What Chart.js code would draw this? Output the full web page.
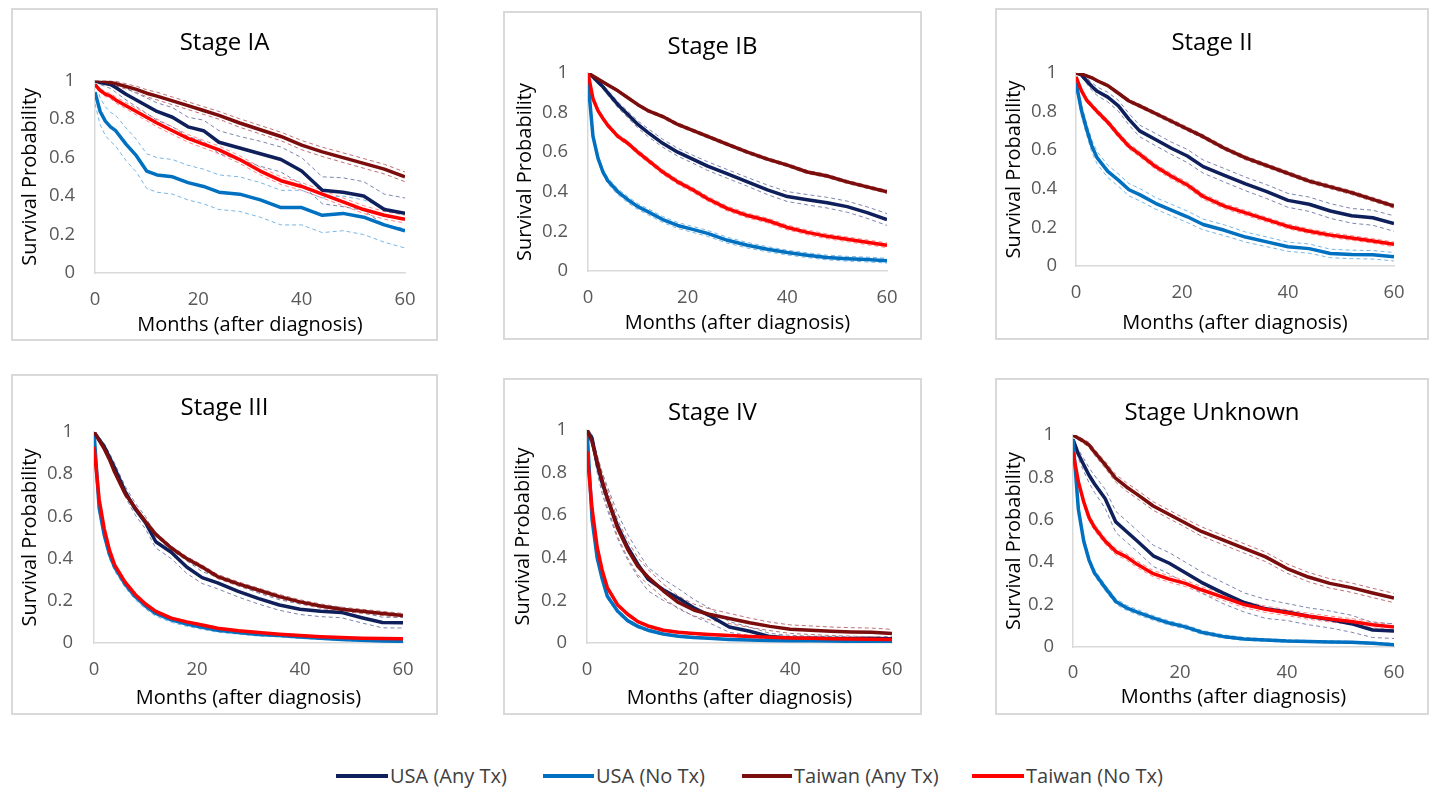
<!DOCTYPE html>
<html>
<head>
<meta charset="utf-8">
<script src="https://cdn.jsdelivr.net/npm/chart.js@4.4.0/dist/chart.umd.min.js"></script>
<style>
  html,body{margin:0;padding:0;background:#fff;}
  body{width:1432px;height:790px;overflow:hidden;position:relative;font-family:'Open Sans',sans-serif;}
  .panel{position:absolute;box-sizing:border-box;border:2px solid #d9d9d9;background:#fff;}
  .panel canvas{position:absolute;left:0;top:0;}
  .lg-line{position:absolute;height:4px;}
  .lg-text{position:absolute;font-size:20px;color:#404040;line-height:24px;white-space:nowrap;}
</style>
</head>
<body>
<script>
// ---------------- DATA ----------------
const months = [0,1,2,3,4,6,8,10,12,15,18,21,24,28,32,36,40,44,48,52,56,60];
const stageTitles = ['Stage IA','Stage IB','Stage II','Stage III','Stage IV','Stage Unknown'];
const seriesNames = ['USA (Any Tx)','USA (No Tx)','Taiwan (Any Tx)','Taiwan (No Tx)'];
const xTickLabels = ['0','20','40','60'];
const yTickLabels = ['0','0.2','0.4','0.6','0.8','1'];
const xAxisTitle = 'Months (after diagnosis)';
const yAxisTitle = 'Survival Probability';

// Stage IA
const iaUsAny = [1,0.99,0.985,0.98,0.965,0.93,0.9,0.87,0.84,0.81,0.76,0.74,0.68,0.65,0.62,0.59,0.53,0.43,0.42,0.4,0.33,0.31];
const iaUsNo  = [0.94,0.84,0.79,0.76,0.74,0.67,0.61,0.53,0.51,0.5,0.47,0.45,0.42,0.41,0.38,0.34,0.34,0.3,0.31,0.29,0.25,0.22];
const iaTwAny = [1,1,0.995,0.99,0.985,0.97,0.955,0.935,0.92,0.895,0.87,0.845,0.82,0.78,0.745,0.71,0.665,0.63,0.6,0.57,0.54,0.5];
const iaTwNo  = [0.98,0.95,0.93,0.92,0.9,0.87,0.84,0.81,0.78,0.74,0.7,0.67,0.64,0.59,0.53,0.48,0.45,0.41,0.37,0.33,0.3,0.28];
const iaUsAnyCI = [0,0.01,0.015,0.02,0.025,0.03,0.035,0.04,0.045,0.05,0.05,0.055,0.06,0.06,0.065,0.065,0.07,0.07,0.075,0.075,0.08,0.08];
const iaUsNoCI  = [0.06,0.07,0.075,0.075,0.08,0.085,0.085,0.09,0.09,0.09,0.09,0.09,0.09,0.09,0.09,0.09,0.09,0.09,0.09,0.09,0.09,0.09];
const iaTwAnyCI = [0,0.005,0.008,0.01,0.012,0.014,0.016,0.018,0.02,0.02,0.02,0.02,0.02,0.022,0.022,0.022,0.024,0.024,0.025,0.025,0.025,0.025];
const iaTwNoCI  = [0,0.01,0.012,0.014,0.015,0.016,0.018,0.018,0.02,0.02,0.02,0.02,0.02,0.02,0.02,0.02,0.02,0.02,0.02,0.02,0.02,0.02];

// Stage IB
const ibUsAny = [1,0.98,0.955,0.93,0.9,0.84,0.79,0.74,0.7,0.645,0.6,0.565,0.53,0.49,0.45,0.41,0.376,0.36,0.345,0.325,0.295,0.26];
const ibUsNo  = [0.96,0.68,0.57,0.5,0.455,0.4,0.36,0.325,0.3,0.26,0.23,0.21,0.19,0.155,0.13,0.11,0.093,0.08,0.068,0.062,0.058,0.052];
const ibTwAny = [1,0.985,0.97,0.955,0.94,0.91,0.875,0.84,0.81,0.78,0.74,0.71,0.68,0.64,0.6,0.565,0.535,0.5,0.48,0.45,0.425,0.4];
const ibTwNo  = [1,0.87,0.81,0.77,0.735,0.68,0.645,0.6,0.56,0.5,0.45,0.41,0.365,0.315,0.28,0.255,0.22,0.195,0.175,0.16,0.145,0.13];
const ibUsAnyCI = [0,0.005,0.008,0.01,0.012,0.015,0.016,0.018,0.02,0.02,0.02,0.02,0.022,0.022,0.022,0.024,0.025,0.026,0.027,0.028,0.029,0.03];
const ibUsNoCI  = [0.01,0.012,0.014,0.015,0.015,0.015,0.015,0.015,0.015,0.015,0.015,0.015,0.015,0.015,0.014,0.013,0.012,0.012,0.012,0.012,0.012,0.012];
const ibTwAnyCI = [0,0.003,0.004,0.005,0.005,0.006,0.006,0.007,0.007,0.008,0.008,0.008,0.008,0.008,0.008,0.008,0.008,0.008,0.008,0.008,0.008,0.008];
const ibTwNoCI  = [0,0.008,0.01,0.01,0.01,0.011,0.011,0.012,0.012,0.012,0.012,0.012,0.012,0.012,0.012,0.012,0.012,0.012,0.012,0.012,0.012,0.012];

// Stage II
const iiUsAny = [1,0.99,0.96,0.93,0.905,0.875,0.83,0.76,0.7,0.655,0.61,0.57,0.515,0.47,0.425,0.385,0.34,0.32,0.285,0.26,0.25,0.22];
const iiUsNo  = [0.95,0.81,0.71,0.62,0.56,0.49,0.445,0.395,0.37,0.325,0.29,0.255,0.215,0.185,0.15,0.125,0.1,0.09,0.065,0.06,0.058,0.048];
const iiTwAny = [1,0.995,0.985,0.975,0.96,0.935,0.895,0.855,0.83,0.79,0.75,0.71,0.67,0.61,0.56,0.52,0.48,0.44,0.41,0.38,0.345,0.31];
const iiTwNo  = [0.98,0.91,0.86,0.83,0.8,0.745,0.68,0.62,0.58,0.515,0.465,0.42,0.36,0.31,0.275,0.24,0.205,0.18,0.16,0.145,0.13,0.112];
const iiUsAnyCI = [0,0.01,0.015,0.02,0.022,0.025,0.028,0.03,0.03,0.032,0.032,0.034,0.034,0.035,0.035,0.036,0.036,0.037,0.038,0.038,0.039,0.04];
const iiUsNoCI  = [0.02,0.03,0.03,0.032,0.032,0.032,0.032,0.032,0.032,0.03,0.03,0.03,0.028,0.028,0.026,0.025,0.024,0.024,0.022,0.022,0.022,0.022];
const iiTwAnyCI = [0,0.003,0.004,0.005,0.006,0.007,0.008,0.008,0.009,0.009,0.01,0.01,0.01,0.01,0.01,0.01,0.01,0.01,0.01,0.01,0.01,0.01];
const iiTwNoCI  = [0,0.01,0.012,0.012,0.013,0.013,0.014,0.014,0.014,0.014,0.014,0.014,0.014,0.013,0.013,0.012,0.012,0.012,0.012,0.012,0.012,0.012];

// Stage III
const iiiUsAny = [1,0.965,0.93,0.88,0.83,0.72,0.635,0.57,0.48,0.43,0.36,0.31,0.285,0.245,0.21,0.18,0.16,0.15,0.145,0.12,0.097,0.096];
const iiiUsNo  = [1,0.64,0.51,0.42,0.36,0.28,0.22,0.175,0.14,0.11,0.09,0.075,0.06,0.05,0.04,0.035,0.028,0.022,0.017,0.013,0.01,0.008];
const iiiTwAny = [1,0.96,0.92,0.87,0.81,0.71,0.64,0.575,0.515,0.45,0.4,0.36,0.315,0.28,0.25,0.22,0.195,0.175,0.16,0.15,0.14,0.13];
const iiiTwNo  = [0.93,0.68,0.54,0.44,0.37,0.29,0.23,0.185,0.15,0.118,0.1,0.085,0.07,0.058,0.05,0.042,0.036,0.03,0.026,0.023,0.021,0.02];
const iiiUsAnyCI = [0,0.01,0.015,0.02,0.022,0.025,0.028,0.03,0.03,0.03,0.03,0.028,0.028,0.027,0.026,0.025,0.025,0.025,0.025,0.025,0.025,0.025];
const iiiUsNoCI  = [0.01,0.02,0.02,0.02,0.018,0.016,0.015,0.014,0.013,0.012,0.011,0.01,0.009,0.008,0.007,0.006,0.006,0.005,0.005,0.005,0.004,0.004];
const iiiTwAnyCI = [0,0.005,0.007,0.008,0.009,0.01,0.01,0.01,0.01,0.01,0.01,0.01,0.01,0.01,0.01,0.01,0.01,0.01,0.01,0.01,0.01,0.01];
const iiiTwNoCI  = [0,0.008,0.008,0.008,0.007,0.006,0.006,0.005,0.005,0.005,0.004,0.004,0.004,0.004,0.003,0.003,0.003,0.003,0.003,0.003,0.003,0.003];

// Stage IV
const ivUsAny = [1,0.96,0.84,0.75,0.68,0.55,0.45,0.37,0.3,0.25,0.21,0.165,0.13,0.075,0.055,0.03,0.024,0.022,0.021,0.02,0.02,0.02];
const ivUsNo  = [1,0.58,0.4,0.3,0.22,0.15,0.105,0.078,0.06,0.042,0.032,0.026,0.022,0.017,0.014,0.012,0.011,0.01,0.009,0.008,0.008,0.007];
const ivTwAny = [1,0.945,0.85,0.76,0.68,0.54,0.44,0.36,0.31,0.245,0.19,0.155,0.135,0.115,0.095,0.078,0.065,0.06,0.055,0.052,0.05,0.044];
const ivTwNo  = [0.9,0.63,0.45,0.34,0.26,0.18,0.135,0.1,0.08,0.06,0.05,0.045,0.04,0.035,0.03,0.027,0.024,0.022,0.02,0.019,0.018,0.017];
const ivUsAnyCI = [0,0.02,0.04,0.05,0.055,0.06,0.06,0.06,0.055,0.05,0.045,0.04,0.035,0.025,0.02,0.015,0.012,0.01,0.01,0.01,0.01,0.01];
const ivUsNoCI  = [0.01,0.02,0.015,0.012,0.01,0.01,0.008,0.007,0.006,0.005,0.005,0.004,0.004,0.003,0.003,0.003,0.003,0.003,0.003,0.003,0.003,0.003];
const ivTwAnyCI = [0,0.02,0.03,0.035,0.04,0.04,0.04,0.04,0.035,0.032,0.03,0.028,0.026,0.024,0.022,0.02,0.02,0.02,0.02,0.02,0.02,0.02];
const ivTwNoCI  = [0,0.015,0.012,0.01,0.01,0.008,0.007,0.006,0.005,0.005,0.004,0.004,0.004,0.004,0.003,0.003,0.003,0.003,0.003,0.003,0.003,0.003];

// Stage Unknown
const unUsAny = [0.98,0.91,0.86,0.81,0.77,0.7,0.59,0.545,0.5,0.43,0.395,0.35,0.305,0.255,0.21,0.18,0.165,0.145,0.13,0.11,0.08,0.075];
const unUsNo  = [0.98,0.65,0.5,0.41,0.35,0.28,0.215,0.185,0.165,0.137,0.113,0.095,0.07,0.05,0.038,0.033,0.028,0.026,0.024,0.022,0.018,0.011];
const unTwAny = [1,0.985,0.97,0.953,0.92,0.86,0.795,0.755,0.72,0.665,0.625,0.585,0.545,0.505,0.465,0.425,0.37,0.33,0.3,0.28,0.255,0.231];
const unTwNo  = [0.92,0.78,0.685,0.61,0.565,0.5,0.45,0.425,0.39,0.346,0.32,0.3,0.27,0.235,0.2,0.178,0.162,0.145,0.132,0.12,0.105,0.094];
const unUsAnyCI = [0,0.02,0.03,0.035,0.04,0.045,0.05,0.05,0.05,0.05,0.05,0.05,0.05,0.05,0.045,0.045,0.04,0.04,0.04,0.04,0.035,0.035];
const unUsNoCI  = [0.01,0.015,0.015,0.015,0.015,0.014,0.013,0.012,0.012,0.011,0.01,0.01,0.009,0.008,0.007,0.006,0.006,0.005,0.005,0.005,0.005,0.005];
const unTwAnyCI = [0,0.008,0.01,0.012,0.014,0.016,0.018,0.02,0.02,0.02,0.02,0.02,0.022,0.022,0.022,0.022,0.022,0.022,0.022,0.022,0.022,0.022];
const unTwNoCI  = [0,0.012,0.014,0.015,0.015,0.015,0.015,0.015,0.015,0.015,0.015,0.015,0.015,0.015,0.015,0.015,0.014,0.014,0.014,0.014,0.014,0.014];

// ---------------- STYLE / LAYOUT ----------------
const lineColors = ['#0e1f5b','#0070c0','#7b0d0d','#ff0000'];
const ciColors   = ['#7d86ad','#7ab6e4','#c07272','#ff8585'];
const drawOrder  = [4,3,2,1];

const panelSeries = [
  [[iaUsAny,iaUsAnyCI],[iaUsNo,iaUsNoCI],[iaTwAny,iaTwAnyCI],[iaTwNo,iaTwNoCI]],
  [[ibUsAny,ibUsAnyCI],[ibUsNo,ibUsNoCI],[ibTwAny,ibTwAnyCI],[ibTwNo,ibTwNoCI]],
  [[iiUsAny,iiUsAnyCI],[iiUsNo,iiUsNoCI],[iiTwAny,iiTwAnyCI],[iiTwNo,iiTwNoCI]],
  [[iiiUsAny,iiiUsAnyCI],[iiiUsNo,iiiUsNoCI],[iiiTwAny,iiiTwAnyCI],[iiiTwNo,iiiTwNoCI]],
  [[ivUsAny,ivUsAnyCI],[ivUsNo,ivUsNoCI],[ivTwAny,ivTwAnyCI],[ivTwNo,ivTwNoCI]],
  [[unUsAny,unUsAnyCI],[unUsNo,unUsNoCI],[unTwAny,unTwAnyCI],[unTwNo,unTwNoCI]]
];

const panelLayout = [
  {box:[11,8,427,333],   plot:[95,80.7,405,273],  titleY:43,  yTitleX:30,   tickRight:75,   xTickY:300, xTitleY:325},
  {box:[503,11,419,329], plot:[588,73,887,271],   titleY:47,  yTitleX:525,  tickRight:568,  xTickY:298, xTitleY:323},
  {box:[995,8,434,332],  plot:[1076,73,1394,266], titleY:43,  yTitleX:1014, tickRight:1057, xTickY:293, xTitleY:323},
  {box:[11,374,427,341], plot:[94,432,403,643],   titleY:408, yTitleX:30,   tickRight:73,   xTickY:670, xTitleY:698},
  {box:[503,378,419,337],plot:[587,430,892,643],  titleY:413, yTitleX:523,  tickRight:567,  xTickY:670, xTitleY:698},
  {box:[995,378,434,337],plot:[1073,435,1394,647],titleY:413, yTitleX:1014, tickRight:1054, xTickY:673, xTitleY:697}
];

const legendPos = [[336,390],[543,596],[742,794],[972,1026]];

const FONT = "'Open Sans', 'Liberation Sans', sans-serif";
const TITLE_SIZE = 24, AXT_SIZE = 20, TICK_SIZE = 18.5;

function pts(vals){ return months.map((m,i)=>({x:m,y:vals[i]})); }
function ptsOff(vals,hw,sign){ return months.map((m,i)=>({x:m,y:Math.min(1,Math.max(0,vals[i]+sign*hw[i]))})); }

panelLayout.forEach((L,p)=>{
  const [bx,by,bw,bh] = L.box;
  const div = document.createElement('div');
  div.className='panel';
  div.style.left=bx+'px'; div.style.top=by+'px'; div.style.width=bw+'px'; div.style.height=bh+'px';
  const cv = document.createElement('canvas');
  const cw = bw-4, ch = bh-4;
  cv.width=cw; cv.height=ch; cv.style.width=cw+'px'; cv.style.height=ch+'px';
  div.appendChild(cv); document.body.appendChild(div);
  const ox = bx+2, oy = by+2;
  const [pl,pt,pr,pb] = L.plot;
  const Lc = pl-ox, Rc = pr-ox, Tc = pt-oy, Bc = pb-oy;
  const titleLH = TITLE_SIZE*1.2, axLH = AXT_SIZE*1.2, tickLH = TICK_SIZE*1.2;
  const tPadTop = L.titleY - oy - titleLH/2;
  const tPadBot = Tc - tPadTop - titleLH;
  const xh = (L.xTitleY - pb) + axLH/2;
  const layoutBottom = ch - Bc - xh;
  const rightW = cw - Rc;

  const datasets = [];
  panelSeries[p].forEach((s,k)=>{
    datasets.push({label:seriesNames[k], data:pts(s[0]), borderColor:lineColors[k], borderWidth:3.5,
      pointRadius:0, tension:0, fill:false, order:drawOrder[k], borderJoinStyle:'round'});
  });
  panelSeries[p].forEach((s,k)=>{
    [-1,1].forEach(sg=>{
      datasets.push({label:seriesNames[k]+(sg<0?' lower':' upper'), data:ptsOff(s[0],s[1],sg), borderColor:ciColors[k],
        borderWidth:1, borderDash:[4,3], pointRadius:0, tension:0, fill:false, order:10});
    });
  });

  new Chart(cv,{
    type:'line',
    data:{datasets},
    options:{
      responsive:false, animation:false, devicePixelRatio:1,
      layout:{padding:{left:0,right:0,top:0,bottom:layoutBottom}},
      plugins:{
        legend:{display:false}, tooltip:{enabled:false},
        title:{display:true, text:stageTitles[p], color:'#000',
          font:{family:FONT,size:TITLE_SIZE,weight:'normal',lineHeight:1.2},
          padding:{top:tPadTop,bottom:tPadBot}}
      },
      scales:{
        x:{type:'linear', min:0, max:60,
          grid:{display:false, drawTicks:false},
          border:{display:true, color:'#d9d9d9', width:1.5},
          ticks:{stepSize:20, padding:L.xTickY-pb-tickLH/2, color:'#595959', maxRotation:0,
            font:{family:FONT,size:TICK_SIZE,lineHeight:1.2},
            callback:(v,i)=>xTickLabels[i]},
          title:{display:true, text:xAxisTitle, color:'#000', padding:0,
            font:{family:FONT,size:AXT_SIZE,lineHeight:1.2}},
          afterFit:(s)=>{s.height=xh;}
        },
        y:{type:'linear', min:0, max:1,
          grid:{display:false, drawTicks:false},
          border:{display:true, color:'#d9d9d9', width:1.5},
          ticks:{stepSize:0.2, padding:pl-L.tickRight, color:'#595959',
            font:{family:FONT,size:TICK_SIZE,lineHeight:1.2},
            callback:(v,i)=>yTickLabels[i]},
          title:{display:true, text:yAxisTitle, color:'#000',
            padding:{top:L.yTitleX-ox-axLH/2,bottom:0},
            font:{family:FONT,size:AXT_SIZE,lineHeight:1.2}},
          afterFit:(s)=>{s.width=Lc;}
        },
        r:{type:'linear', position:'right', display:true,
          grid:{display:false, drawTicks:false}, border:{display:false},
          ticks:{display:false}, title:{display:false},
          afterFit:(s)=>{s.width=rightW;}
        }
      }
    }
  });
});

// legend (HTML)
seriesNames.forEach((n,k)=>{
  const ln = document.createElement('div');
  ln.className='lg-line';
  ln.style.left=legendPos[k][0]+'px'; ln.style.width=(legendPos[k][1]-2-legendPos[k][0])+'px';
  ln.style.top='774px'; ln.style.background=lineColors[k];
  document.body.appendChild(ln);
  const tx = document.createElement('div');
  tx.className='lg-text'; tx.textContent=n;
  tx.style.left=legendPos[k][1]+'px'; tx.style.top='764px';
  document.body.appendChild(tx);
});
</script>
</body>
</html>
